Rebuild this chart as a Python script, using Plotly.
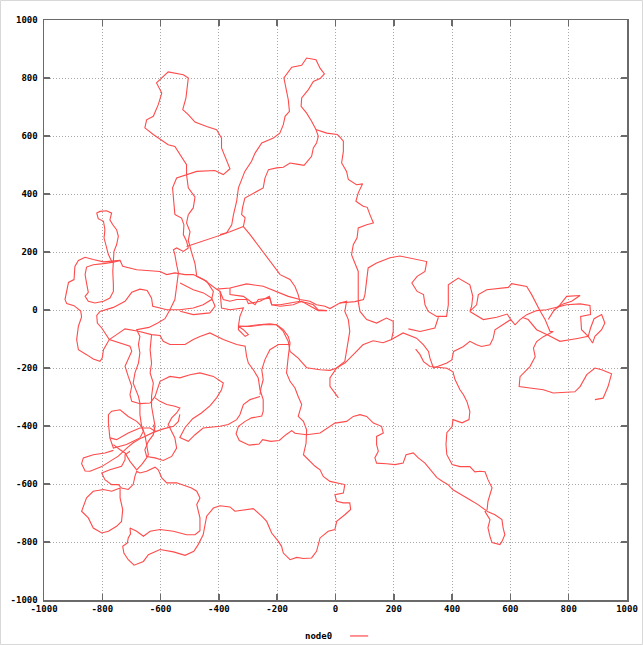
import plotly.graph_objects as go

# ---- trajectory of node0, split into traced strokes (data units) ----
stroke_top_left = [(-551,329),(-556,375),(-559,421),(-545,455),(-511,467),(-476,478),(-414,481),(-385,467),
    (-362,487),(-391,559),(-391,593),(-408,622),(-442,633),(-482,648),(-505,674),(-524,691),(-513,731),
    (-505,800),(-522,811),(-574,821),(-614,783),(-596,748),(-608,708),(-625,668),(-648,656),(-654,628),
    (-625,605),(-574,570),(-551,564),(-534,536),(-511,501),(-511,467),(-505,421),(-482,389),(-488,352),(-505,329)]

stroke_tail_a = [(-551,329),(-528,317),(-520,294),(-522,260),(-511,237),(-505,214),(-522,202),(-545,214),
    (-556,208),(-551,191),(-545,156),(-539,128),(-545,82),(-551,36),(-568,1),(-585,-30),(-610,-45),(-640,-60),
    (-682,-68),(-671,-91),(-676,-119),(-671,-148),(-676,-183),(-688,-217),(-694,-252),(-676,-298),(-671,-321),
    (-671,-361),(-665,-401),(-654,-430),(-648,-464),(-642,-499),(-648,-510),(-665,-533),(-682,-551),
    (-705,-522),(-722,-493),(-739,-482),(-762,-464)]

stroke_tail_b = [(-505,329),(-511,300),(-499,270),(-505,240),(-494,200),(-482,160),(-476,116),(-442,99),
    (-419,64),(-425,36),(-454,18),(-488,7),(-534,1),(-579,1),(-602,7),(-627,13),(-631,41),(-646,67),(-671,72),
    (-699,61),(-722,30),(-762,9),(-808,-5),(-819,-19),(-817,-45),(-802,-62),(-776,-102),(-739,-114),(-705,-125),
    (-699,-142),(-716,-177),(-722,-194),(-711,-229),(-699,-263),(-705,-292),(-699,-315),(-671,-323),(-636,-321),
    (-619,-298),(-608,-269),(-602,-246),(-568,-229),(-534,-234),(-499,-223),(-465,-217),(-419,-229),(-385,-252),
    (-391,-275),(-408,-303),(-430,-330),(-460,-355),(-490,-375),(-516,-405),(-534,-440),(-505,-453),(-482,-430),
    (-454,-407),(-396,-401),(-368,-395),(-339,-378),(-328,-361),(-316,-326),(-293,-309),(-259,-298)]

stroke_arc = [(-533,93),(-511,82),(-488,70),(-453,59),(-425,41),(-413,13),(-431,-10),(-488,-16),(-533,-4)]

stroke_main = [(-762,165),(-768,168),(-779,191),(-785,214),(-794,248),(-791,277),(-796,306),(-814,315),
    (-819,334),(-808,340),(-785,342),(-768,334),(-774,311),(-764,294),(-751,277),(-745,254),(-751,225),
    (-760,202),(-762,162),(-764,133),(-762,87),(-762,64),(-774,41),(-796,30),(-825,24),(-848,30),(-859,47),
    (-848,61),(-854,93),(-859,122),(-854,148),(-831,156),(-796,160),(-762,165),(-739,171),(-730,151),(-682,139),
    (-648,137),(-602,133),(-579,122),(-551,128),(-516,122),(-488,122),(-453,105),(-408,72),(-362,76),(-305,90),
    (-248,82),(-202,64),(-162,47),(-122,36),(-88,30),(-65,18),(-36,13),(-19,5),(15,24),(67,29),(96,36),(101,53),
    (107,110),(112,145),(141,162),(187,180),(221,186),(280,173),(313,167),(307,133),(280,116),(262,93),(280,64),
    (302,53),(307,18),(318,-5),(347,-22),(381,-22),(387,18),(387,87),(421,110),(461,87),(471,47),(467,13),
    (461,-5),(484,18),(490,53),(519,70),(564,76),(593,78),(604,91),(656,81),(673,53),(684,30),(701,-2),
    (719,-33),(736,-74),(747,-74),(713,-92),(690,-109),(679,-131),(685,-161),(667,-195),(633,-230),(630,-264),
    (667,-269),(713,-275),(747,-286),(781,-283),(821,-282),(839,-264),(862,-223),(890,-200),(913,-206),
    (947,-220),(935,-264),(918,-304),(890,-309)]

stroke_top_mid = [(-511,219),(-476,231),(-430,248),(-396,260),(-374,265),(-356,294),(-350,329),(-339,375),
    (-333,421),(-311,478),(-288,513),(-276,541),(-253,576),(-213,593),(-191,610),(-179,639),(-173,668),
    (-158,685),(-162,725),(-170,765),(-177,800),(-150,837),(-116,844),(-99,869),(-67,863),(-53,834),(-38,814),
    (-53,798),(-76,788),(-93,760),(-116,731),(-118,702),(-99,679),(-82,651),(-67,622),(-30,610),(6,605),
    (13,599),(27,582),(27,547),(21,507),(38,478),(44,450),(72,432),(93,435),(78,404),(70,375),(95,358),
    (109,354),(118,329),(130,300),(107,294),(78,283),(74,249),(61,225),(55,191),(67,162),(78,133),(78,87),
    (78,29),(84,-5),(107,-33),(141,-45),(175,-28),(198,-39),(198,-74),(192,-102),(163,-113),(129,-106),
    (94,-120),(67,-148),(33,-182),(4,-200),(-19,-208),(-53,-206),(-99,-199),(-128,-166),(-156,-143),
    (-162,-109),(-179,-74),(-202,-51),(-248,-51),(-293,-57),(-333,-56)]

stroke_inner = [(-67,622),(-59,599),(-65,576),(-76,559),(-82,530),(-108,499),(-133,503),(-156,507),
    (-179,492),(-202,490),(-230,484),(-242,455),(-248,421),(-293,398),(-311,386),(-319,352),(-322,329),
    (-310,318),(-316,288),(-293,260),(-259,214),(-225,167),(-190,122),(-156,105),(-139,81),(-128,53),
    (-122,29),(-98,25),(-76,18),(-60,1),(-30,-2)]

stroke_link = [(-316,288),(-362,270),(-396,260)]

stroke_bundle_a = [(-408,72),(-396,64),(-385,36),(-362,30),(-339,36),(-305,36),(-299,22),(-259,30),
    (-227,47),(-219,18),(-190,13),(-145,18),(-116,30),(-93,18),(-76,7),(-59,-2),(-30,-2)]

stroke_bundle_b = [(-362,76),(-362,53),(-316,47),(-293,30),(-276,18),(-265,36),(-225,41),(-219,18),
    (-190,18),(-156,24),(-122,30)]

stroke_south = [(-396,64),(-391,7),(-362,1),(-316,7),(-328,-22),(-333,-56),(-316,-68),(-299,-85),(-310,-91),
    (-333,-68),(-333,-56),(-305,-56),(-265,-51),(-225,-48),(-202,-51),(-179,-68),(-162,-91),(-156,-114),
    (-162,-160),(-168,-217),(-156,-246),(-139,-269),(-128,-298),(-116,-326),(-128,-367),(-110,-384),(-99,-413),
    (-101,-459),(-110,-499),(-88,-522),(-70,-539),(-53,-551),(-42,-574),(-19,-591),(4,-596),(32,-602),(27,-631),
    (-2,-637),(4,-660),(27,-665),(49,-665),(52,-688),(32,-706),(4,-729),(-2,-757),(-25,-763),(-53,-786),
    (-65,-832),(-82,-855),(-110,-857),(-133,-853),(-156,-861),(-179,-838),(-185,-815),(-196,-798),(-219,-769),
    (-236,-729),(-253,-711),(-282,-685),(-310,-688),(-345,-694),(-362,-679),(-396,-675),(-419,-683),(-442,-711),
    (-454,-775),(-471,-809),(-486,-832),(-516,-846),(-556,-834),(-602,-826),(-642,-844),(-659,-867),(-691,-880),
    (-711,-861),(-726,-838),(-730,-815),(-714,-803),(-711,-786),(-703,-772),(-705,-752),(-682,-763),(-659,-780),
    (-636,-763),(-602,-757),(-556,-763),(-511,-775),(-482,-775),(-465,-761),(-465,-717),(-476,-671),(-465,-648),
    (-476,-625),(-494,-614),(-511,-608),(-545,-596),(-579,-596),(-596,-579),(-608,-551),(-619,-542),(-648,-556),
    (-671,-562),(-682,-556),(-688,-573),(-694,-602),(-711,-619),(-734,-614),(-745,-602),(-768,-602),(-791,-585),
    (-802,-562),(-774,-551),(-734,-539),(-722,-516),(-722,-499),(-705,-487)]

stroke_mid_west = [(-156,-119),(-196,-119),(-225,-137),(-242,-171),(-253,-206),(-248,-240),(-256,-270),(-259,-292)]

stroke_outer = [(-739,171),(-796,166),(-831,174),(-859,182),(-882,171),(-894,150),(-897,105),(-916,95),
    (-928,36),(-922,22),(-897,15),(-874,-4),(-871,-24),(-882,-56),(-888,-102),(-882,-137),(-854,-154),
    (-831,-169),(-808,-177),(-800,-165),(-796,-137),(-776,-102),(-751,-85),(-722,-65),(-676,-73),(-631,-85),
    (-602,-88),(-591,-108),(-568,-119),(-516,-119),(-488,-102),(-465,-91),(-431,-79),(-385,-102),(-339,-119),
    (-310,-125),(-305,-160),(-299,-183),(-282,-206),(-265,-234),(-259,-275),(-248,-309),(-248,-349),(-253,-366),
    (-288,-372),(-310,-384),(-333,-401),(-341,-427),(-330,-450),(-296,-466),(-262,-462),(-250,-447),(-222,-453),
    (-193,-450),(-170,-430),(-150,-416),(-139,-425),(-99,-430),(-53,-424),(-25,-407),(-2,-390),(38,-384),
    (61,-367),(84,-361),(107,-367),(130,-390),(158,-401),(164,-424),(141,-436),(141,-464),(147,-487),(135,-510),
    (141,-528),(175,-530),(204,-533),(232,-528),(242,-499),(267,-493),(284,-510),(307,-528),(331,-557),
    (348,-578),(369,-592),(386,-602),(403,-620),(434,-637),(461,-654),(489,-671),(513,-689),(523,-696),
    (547,-706),(571,-723),(575,-751),(581,-775),(571,-798),(564,-809),(537,-802),(530,-781),(523,-751),
    (530,-723),(513,-695),(520,-689),(523,-660),(530,-637),(537,-613),(523,-585),(513,-558),(496,-556),
    (478,-558),(461,-540),(427,-540),(400,-533),(382,-499),(379,-464),(382,-423),(400,-402),(403,-378),
    (434,-389),(458,-378),(461,-350),(451,-316),(439,-292),(427,-275),(410,-240),(403,-213),(382,-201),
    (353,-199),(324,-195),(302,-178),(290,-154),(275,-135)]

stroke_east = [(192,-102),(232,-79),(278,-97),(302,-120),(319,-143),(324,-166),(336,-200),(358,-191),
    (382,-183),(399,-172),(405,-143),(439,-126),(461,-108),(484,-120),(501,-126),(530,-120),(541,-97),
    (547,-68),(564,-57),(590,-40),(601,-33),(616,-51),(633,-33),(656,-16),(690,-2),(724,1),(793,18),(839,21),
    (873,16),(875,-16),(841,-22),(844,-68),(867,-91),(882,-114),(890,-91),(913,-68),(924,-45),(913,-16),
    (887,-30),(875,-62),(867,-91),(830,-98),(799,-102),(770,-108),(730,-87),(690,-68),(661,-33),(640,-25)]

stroke_east_b = [(461,-5),(507,-33),(553,-25),(589,-14),(601,-33)]
stroke_flag = [(730,-33),(747,-5),(770,18),(793,47),(839,50),(810,30),(781,21),(747,-2)]
stroke_branch = [(250,-65),(290,-74),(341,-62),(353,-25)]
stroke_centre_drop = [(15,24),(38,30),(32,-5),(44,-33),(49,-74),(44,-108),(38,-143),(32,-177),(4,-200),
    (-19,-234),(-19,-263),(4,-298),(10,-303)]

stroke_sw_loop = [(-739,-614),(-768,-625),(-796,-619),(-831,-625),(-854,-648),(-871,-694),(-848,-717),
    (-831,-752),(-802,-769),(-779,-763),(-751,-746),(-734,-729),(-730,-688),(-739,-648),(-739,-614)]
stroke_sw_diag = [(-762,-484),(-791,-493),(-831,-499),(-865,-510),(-871,-530),(-859,-555),(-842,-556),
    (-802,-540),(-774,-522),(-745,-504),(-716,-476),(-694,-458),(-665,-441),(-625,-422),(-591,-410),
    (-556,-401),(-539,-384),(-534,-360)]
stroke_w_loop = [(-779,-390),(-779,-361),(-768,-349),(-739,-344),(-711,-367),(-682,-384),(-665,-401),
    (-659,-418),(-671,-441),(-717,-464),(-762,-476),(-774,-441),(-779,-390)]
stroke_w_bar = [(-774,-441),(-751,-447),(-711,-424),(-671,-407),(-636,-407),(-619,-418),(-625,-395)]
stroke_w_vert = [(-631,-85),(-636,-137),(-631,-183),(-636,-217),(-625,-252),(-631,-298),(-631,-332),
    (-625,-361),(-619,-401),(-625,-430),(-642,-453),(-654,-482),(-648,-505),(-619,-510),(-591,-519),
    (-562,-505),(-545,-476),(-551,-441),(-562,-418),(-574,-395),(-562,-372),(-545,-355),(-534,-338),
    (-551,-332),(-579,-326),(-602,-315),(-619,-303)]

strokes = [stroke_top_left, stroke_tail_a, stroke_tail_b, stroke_arc, stroke_main, stroke_top_mid,
           stroke_inner, stroke_link, stroke_bundle_a, stroke_bundle_b, stroke_south, stroke_mid_west,
           stroke_outer, stroke_east, stroke_east_b, stroke_flag, stroke_branch, stroke_centre_drop,
           stroke_sw_loop, stroke_sw_diag, stroke_w_loop, stroke_w_bar, stroke_w_vert]

tick_vals = [-1000, -800, -600, -400, -200, 0, 200, 400, 600, 800, 1000]
series_name = "node0"

xs, ys = [], []
for s in strokes:
    for (a, b) in s:
        xs.append(a)
        ys.append(b)
    xs.append(None)
    ys.append(None)

red = "rgb(255,75,75)"
fig = go.Figure()
fig.add_trace(go.Scatter(x=xs, y=ys, mode="lines", name=series_name, connectgaps=False,
                         line=dict(color=red, width=1.1), showlegend=False, hoverinfo="skip"))

tickfont = dict(family="DejaVu Sans Mono", size=9, color="black", weight="bold")
axis_common = dict(range=[-1000, 1000], tickvals=tick_vals, ticktext=[str(v) for v in tick_vals],
                   showgrid=True, gridcolor="#a8a8a8", griddash="1px,2px", gridwidth=1,
                   zeroline=False, showline=True, linecolor="#6a6a6a", linewidth=1.5,
                   mirror="ticks", ticks="inside", ticklen=6, tickcolor="#6a6a6a", tickwidth=1.5,
                   tickfont=tickfont, fixedrange=True, automargin=False)
fig.update_xaxes(**axis_common)
fig.update_yaxes(**axis_common, ticklabelstandoff=3)

fig.update_layout(width=643, height=645, margin=dict(l=44, r=16, t=20, b=45, autoexpand=False),
                  plot_bgcolor="white", paper_bgcolor="white", showlegend=False)

# legend: label followed by line sample (as in the original)
fig.add_annotation(text=series_name, xref="paper", yref="paper", x=0.497, y=-0.062,
                   xanchor="right", yanchor="middle", showarrow=False, font=tickfont)
fig.add_shape(type="line", xref="paper", yref="paper", x0=0.525, x1=0.556, y0=-0.062, y1=-0.062,
              line=dict(color=red, width=1.2))
# faint outer frame of the image
fig.add_shape(type="rect", xref="paper", yref="paper", x0=-0.0746, x1=1.0266, y0=-0.0767, y1=1.0336,
              line=dict(color="#d8d8d8", width=1))

fig.write_html("out.html", config={"displayModeBar": False, "staticPlot": True},
               post_script="document.body.style.margin='0px';document.body.style.overflow='hidden';")
